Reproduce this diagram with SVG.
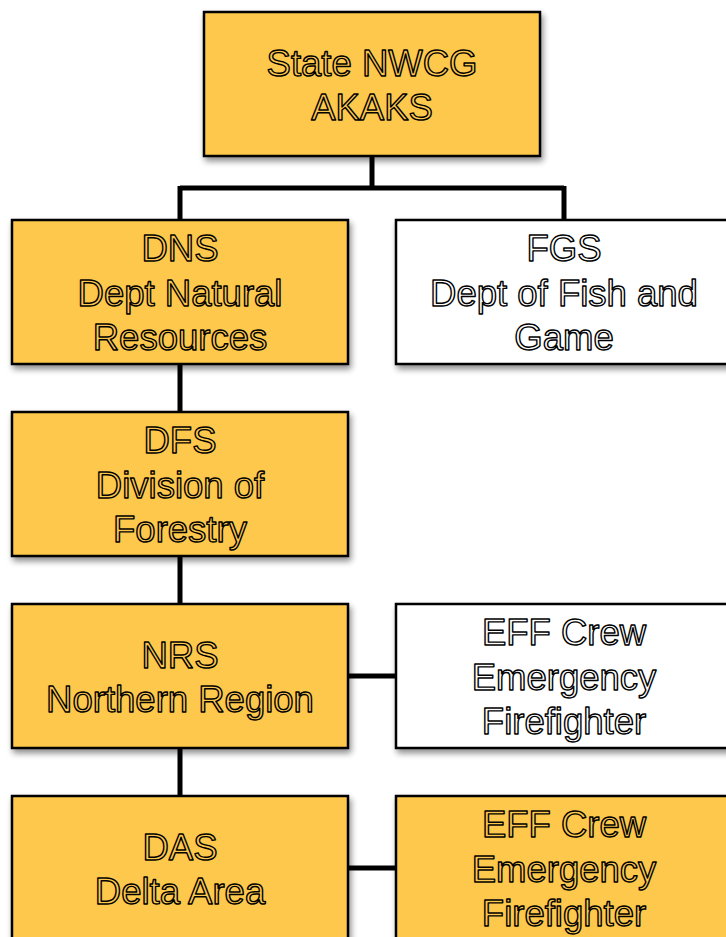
<svg xmlns="http://www.w3.org/2000/svg" width="726" height="937" viewBox="0 0 726 937">
<style>
.box{stroke:#000;stroke-width:2.5;filter:url(#sh)}
.y{fill:#FEC84E}
.w{fill:#fff}
text{font-family:"Liberation Sans",Arial,sans-serif;font-size:36.5px;text-anchor:middle;stroke:#000;stroke-width:1.4;stroke-linejoin:round}
.ty{fill:#FEC84E}
.tw{fill:#fff}
.con{stroke:#000;stroke-width:5;fill:none}
</style>
<defs>
<filter id="sh" x="-10%" y="-10%" width="130%" height="130%">
<feGaussianBlur in="SourceAlpha" stdDeviation="3"/>
<feOffset dx="2" dy="4" result="b"/>
<feComponentTransfer><feFuncA type="linear" slope="0.45"/></feComponentTransfer>
<feMerge><feMergeNode/><feMergeNode in="SourceGraphic"/></feMerge>
</filter>
</defs>
<rect width="726" height="937" fill="#fff"/>
<g id="connectors">
<path class="con" d="M372 156V188M180 188H564M180 186V220M564 186V220"/>
<path class="con" d="M180 364V412M180 556V604M180 748V796"/>
<path class="con" d="M348 676H396M348 868H396"/>
</g>
<g id="state">
<rect class="box y" x="204" y="12" width="336" height="144"/>
<text class="ty" x="372" y="76">State NWCG</text>
<text class="ty" x="372" y="120">AKAKS</text>
</g>
<g id="dns">
<rect class="box y" x="12" y="220" width="336" height="144"/>
<text class="ty" x="180" y="261">DNS</text>
<text class="ty" x="180" y="306">Dept Natural</text>
<text class="ty" x="180" y="350">Resources</text>
</g>
<g id="fgs">
<rect class="box w" x="396" y="220" width="340" height="144"/>
<text class="tw" x="564" y="261">FGS</text>
<text class="tw" x="564" y="306">Dept of Fish and</text>
<text class="tw" x="564" y="350">Game</text>
</g>
<g id="dfs">
<rect class="box y" x="12" y="412" width="336" height="144"/>
<text class="ty" x="180" y="453">DFS</text>
<text class="ty" x="180" y="498">Division of</text>
<text class="ty" x="180" y="542">Forestry</text>
</g>
<g id="nrs">
<rect class="box y" x="12" y="604" width="336" height="144"/>
<text class="ty" x="180" y="668">NRS</text>
<text class="ty" x="180" y="712">Northern Region</text>
</g>
<g id="eff1">
<rect class="box w" x="396" y="604" width="340" height="144"/>
<text class="tw" x="564" y="645">EFF Crew</text>
<text class="tw" x="564" y="690">Emergency</text>
<text class="tw" x="564" y="734">Firefighter</text>
</g>
<g id="das">
<rect class="box y" x="12" y="796" width="336" height="160"/>
<text class="ty" x="180" y="860">DAS</text>
<text class="ty" x="180" y="904">Delta Area</text>
</g>
<g id="eff2">
<rect class="box y" x="396" y="796" width="340" height="160"/>
<text class="ty" x="564" y="837">EFF Crew</text>
<text class="ty" x="564" y="882">Emergency</text>
<text class="ty" x="564" y="926">Firefighter</text>
</g>
</svg>
